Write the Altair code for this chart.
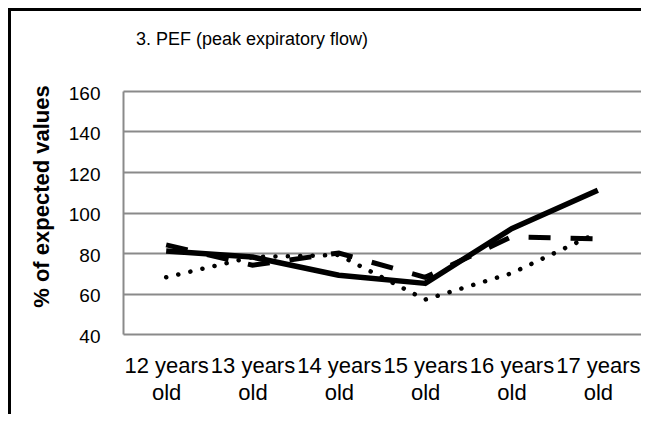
import altair as alt
import pandas as pd

ages = ["12 years old", "13 years old", "14 years old", "15 years old", "16 years old", "17 years old"]
solid = [81, 78, 69, 65, 92, 111]
dashed = [84, 74, 80, 68, 88, 87]
dotted = [68, 78, 79, 57, 70, 90]
y_ticks = [40, 60, 80, 100, 120, 140, 160]
title_text = "3. PEF  (peak expiratory flow)"

rows = []
for name, vals in [("solid", solid), ("dashed", dashed), ("dotted", dotted)]:
    for a, v in zip(ages, vals):
        rows.append({"age": a, "value": v, "series": name})
df = pd.DataFrame(rows)

x_enc = alt.X(
    "age:N", sort=ages, title=None,
    axis=alt.Axis(labelAngle=0, domain=False, ticks=False, grid=False,
                  labelFontSize=22, labelLineHeight=27, labelPadding=21,
                  labelColor="black", labelFont="Liberation Sans",
                  labelExpr="[replace(datum.label, ' old', ''), 'old']"),
)
y_enc = alt.Y(
    "value:Q", title="% of expected values",
    scale=alt.Scale(domain=[40, 160], nice=False, zero=False),
    axis=alt.Axis(values=y_ticks, domain=True, domainColor="#8a8a8a", domainWidth=2,
                  ticks=False, grid=True, gridColor="#8a8a8a", gridWidth=2,
                  labelFontSize=19, labelPadding=23, labelColor="black",
                  labelFont="Liberation Sans", labelOffset=2,
                  titleFont="Liberation Sans", titleFontSize=22, titleFontWeight="bold",
                  titleColor="black", titleAngle=270, titleX=-82, titleY=105,
                  titleAlign="center", titleBaseline="middle"),
)

base = alt.Chart(df)
line_solid = base.transform_filter(alt.datum.series == "solid").mark_line(
    color="black", strokeWidth=5.5, strokeJoin="round").encode(x=x_enc, y=y_enc)
line_dashed = base.transform_filter(alt.datum.series == "dashed").mark_line(
    color="black", strokeWidth=5, strokeDash=[22, 20]).encode(x=x_enc, y=y_enc)
line_dotted = base.transform_filter(alt.datum.series == "dotted").mark_line(
    color="black", strokeWidth=4.5, strokeDash=[0.1, 12.3], strokeCap="round").encode(x=x_enc, y=y_enc)

one = alt.Data(values=[{}])
frame_top = alt.Chart(one).mark_rect(color="black", strokeWidth=0, clip=False).encode(
    x=alt.value(-115), x2=alt.value(518), y=alt.value(-83), y2=alt.value(-80))
frame_left = alt.Chart(one).mark_rect(color="black", strokeWidth=0, clip=False).encode(
    x=alt.value(-115), x2=alt.value(-112), y=alt.value(-83), y2=alt.value(323))
title = alt.Chart(one).mark_text(
    align="left", baseline="alphabetic", font="Liberation Sans", fontSize=18,
    color="black", clip=False).encode(
    x=alt.value(13), y=alt.value(-46), text=alt.value(title_text))

chart = alt.layer(line_solid, line_dashed, line_dotted, frame_top, frame_left, title).properties(
    width=518, height=243,
    padding={"left": 115, "top": 83, "right": 0, "bottom": 80},
    autosize=alt.AutoSizeParams(type="none"),
).configure_view(stroke=None)

chart.save("out.html", embed_options={"renderer": "svg", "actions": False})
